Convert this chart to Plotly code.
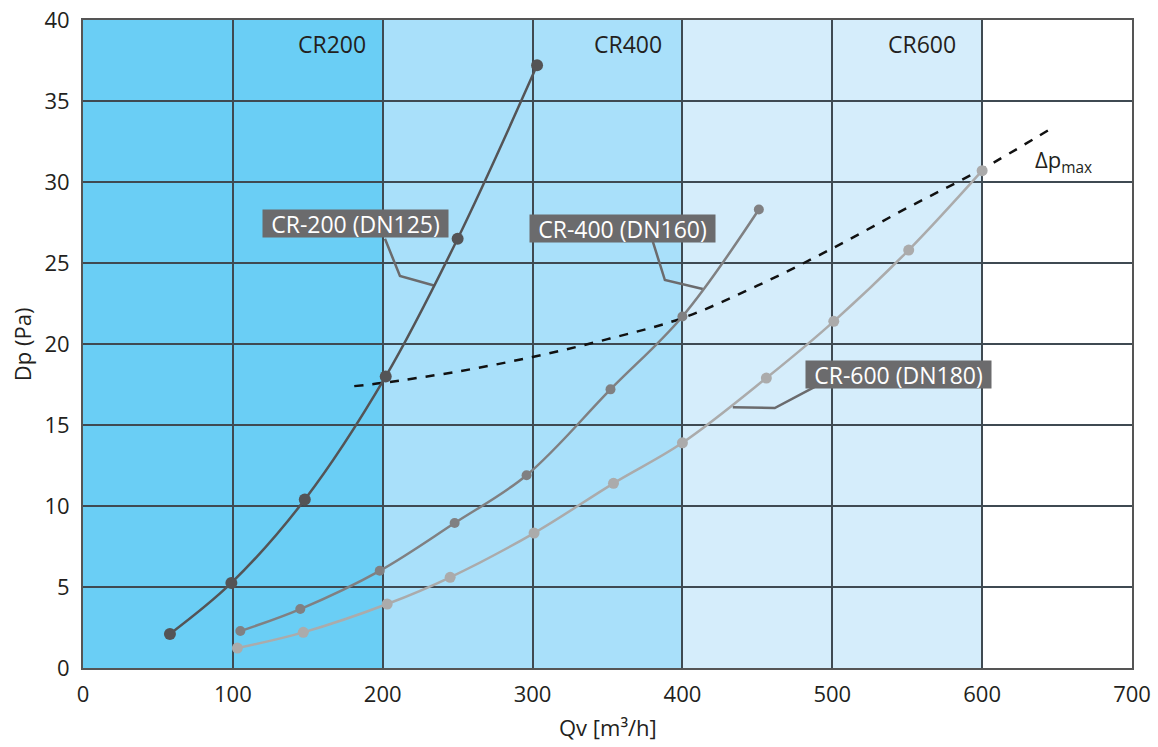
import plotly.graph_objects as go

# ---- data ----
cr200_q = [58, 99, 148, 202, 250, 303]
cr200_dp = [2.1, 5.25, 10.4, 18.0, 26.5, 37.2]

cr400_q = [105, 145, 198, 248, 296, 352, 400, 451]
cr400_dp = [2.28, 3.64, 6.0, 8.95, 11.9, 17.2, 21.7, 28.3]

cr600_q = [103, 147, 203, 245, 301, 354, 400, 456, 501, 551, 600]
cr600_dp = [1.23, 2.2, 3.95, 5.6, 8.33, 11.4, 13.9, 17.9, 21.4, 25.8, 30.7]

dpmax_q = [181, 200, 250, 300, 350, 400, 450, 500, 550, 600, 646]
dpmax_dp = [17.4, 17.6, 18.3, 19.2, 20.3, 21.6, 23.6, 25.9, 28.4, 30.8, 33.3]

zone_start = [0, 200, 400]
zone_end = [200, 400, 600]
zone_colors = ["#6ACEF5", "#A9E0FA", "#D5EDFB"]
zone_names = ["CR200", "CR400", "CR600"]
zone_label_x = [166, 364, 560]

x_ticks = [0, 100, 200, 300, 400, 500, 600, 700]
y_ticks = [0, 5, 10, 15, 20, 25, 30, 35, 40]

# label boxes: text, box center, leader polyline
label_texts = ["CR-200 (DN125)", "CR-400 (DN160)", "CR-600 (DN180)"]
label_cx = [181.8, 359.9, 544.4]
label_cy = [27.44, 27.1, 18.12]
leader_x = [[201.5, 211.5, 234.8], [380.3, 388.3, 413.6], [488.3, 461.6, 433.6]]
leader_y = [[26.5, 24.2, 23.6], [26.3, 23.95, 23.4], [17.35, 16.05, 16.1]]

FONT = "Open Sans"
TXT = "#231f20"

fig = go.Figure()

for lx, ly in zip(leader_x, leader_y):
    fig.add_trace(go.Scatter(x=lx, y=ly, mode="lines", line=dict(color="#6b6b6d", width=2.5),
                             hoverinfo="skip", showlegend=False))

fig.add_trace(go.Scatter(x=dpmax_q, y=dpmax_dp, mode="lines",
                         line=dict(color="#111111", width=2.5, dash="dash", shape="spline"),
                         showlegend=False))

fig.add_trace(go.Scatter(x=cr600_q, y=cr600_dp, mode="lines+markers",
                         line=dict(color="#ababab", width=2.5, shape="spline"),
                         marker=dict(color="#ababab", size=11), showlegend=False))
fig.add_trace(go.Scatter(x=cr400_q, y=cr400_dp, mode="lines+markers",
                         line=dict(color="#808082", width=2.5, shape="spline"),
                         marker=dict(color="#808082", size=10), showlegend=False))
fig.add_trace(go.Scatter(x=cr200_q, y=cr200_dp, mode="lines+markers",
                         line=dict(color="#545456", width=2.5, shape="spline"),
                         marker=dict(color="#545456", size=12), showlegend=False))

shapes = []
for x0, x1, col in zip(zone_start, zone_end, zone_colors):
    shapes.append(dict(type="rect", xref="x", yref="y", x0=x0, x1=x1, y0=0, y1=40,
                       fillcolor=col, line=dict(width=0), layer="below"))
fig.update_layout(shapes=shapes)

annotations = []
for name, lx in zip(zone_names, zone_label_x):
    annotations.append(dict(x=lx, y=38.5, xref="x", yref="y", text=name, showarrow=False,
                            font=dict(family=FONT, size=23, color=TXT)))
for txt, cx, cy in zip(label_texts, label_cx, label_cy):
    annotations.append(dict(x=cx, y=cy, xref="x", yref="y", text=txt, showarrow=False,
                            bgcolor="#6b6b6d", borderpad=0, width=185, height=27,
                            font=dict(family=FONT, size=23, color="white")))
annotations.append(dict(x=654, y=31.3, xref="x", yref="y", text="Δp<sub>max</sub>", showarrow=False,
                        font=dict(family=FONT, size=22, color=TXT)))
# axis titles
annotations.append(dict(x=0.5, y=-0.091, xref="paper", yref="paper", text="Qv [m³/h]", showarrow=False,
                        yanchor="middle", font=dict(family=FONT, size=22, color=TXT)))
annotations.append(dict(x=-0.058, y=0.5, xref="paper", yref="paper", text="Dp (Pa)", showarrow=False,
                        textangle=-90, xanchor="center", font=dict(family=FONT, size=22, color=TXT)))
fig.update_layout(annotations=annotations)

fig.update_xaxes(range=[0, 700], tickvals=x_ticks, showgrid=True, gridcolor="#3f4a52", gridwidth=1.5,
                 showline=True, linecolor="#555555", linewidth=2, mirror=True, zeroline=False,
                 ticks="", automargin=False, ticklabelstandoff=6,
                 tickfont=dict(family=FONT, size=22, color=TXT))
fig.update_yaxes(range=[0, 40], tickvals=y_ticks, showgrid=True, gridcolor="#3f4a52", gridwidth=1.5,
                 showline=True, linecolor="#555555", linewidth=2, mirror=True, zeroline=False,
                 ticks="", automargin=False, ticklabelstandoff=7,
                 tickfont=dict(family=FONT, size=22, color=TXT))

fig.update_layout(width=1158, height=747, margin=dict(l=83, r=26, t=20, b=79, autoexpand=False),
                  plot_bgcolor="white", paper_bgcolor="white")

fig.write_html("out.html", config={"displayModeBar": False},
               post_script="document.body.style.margin='0';")
